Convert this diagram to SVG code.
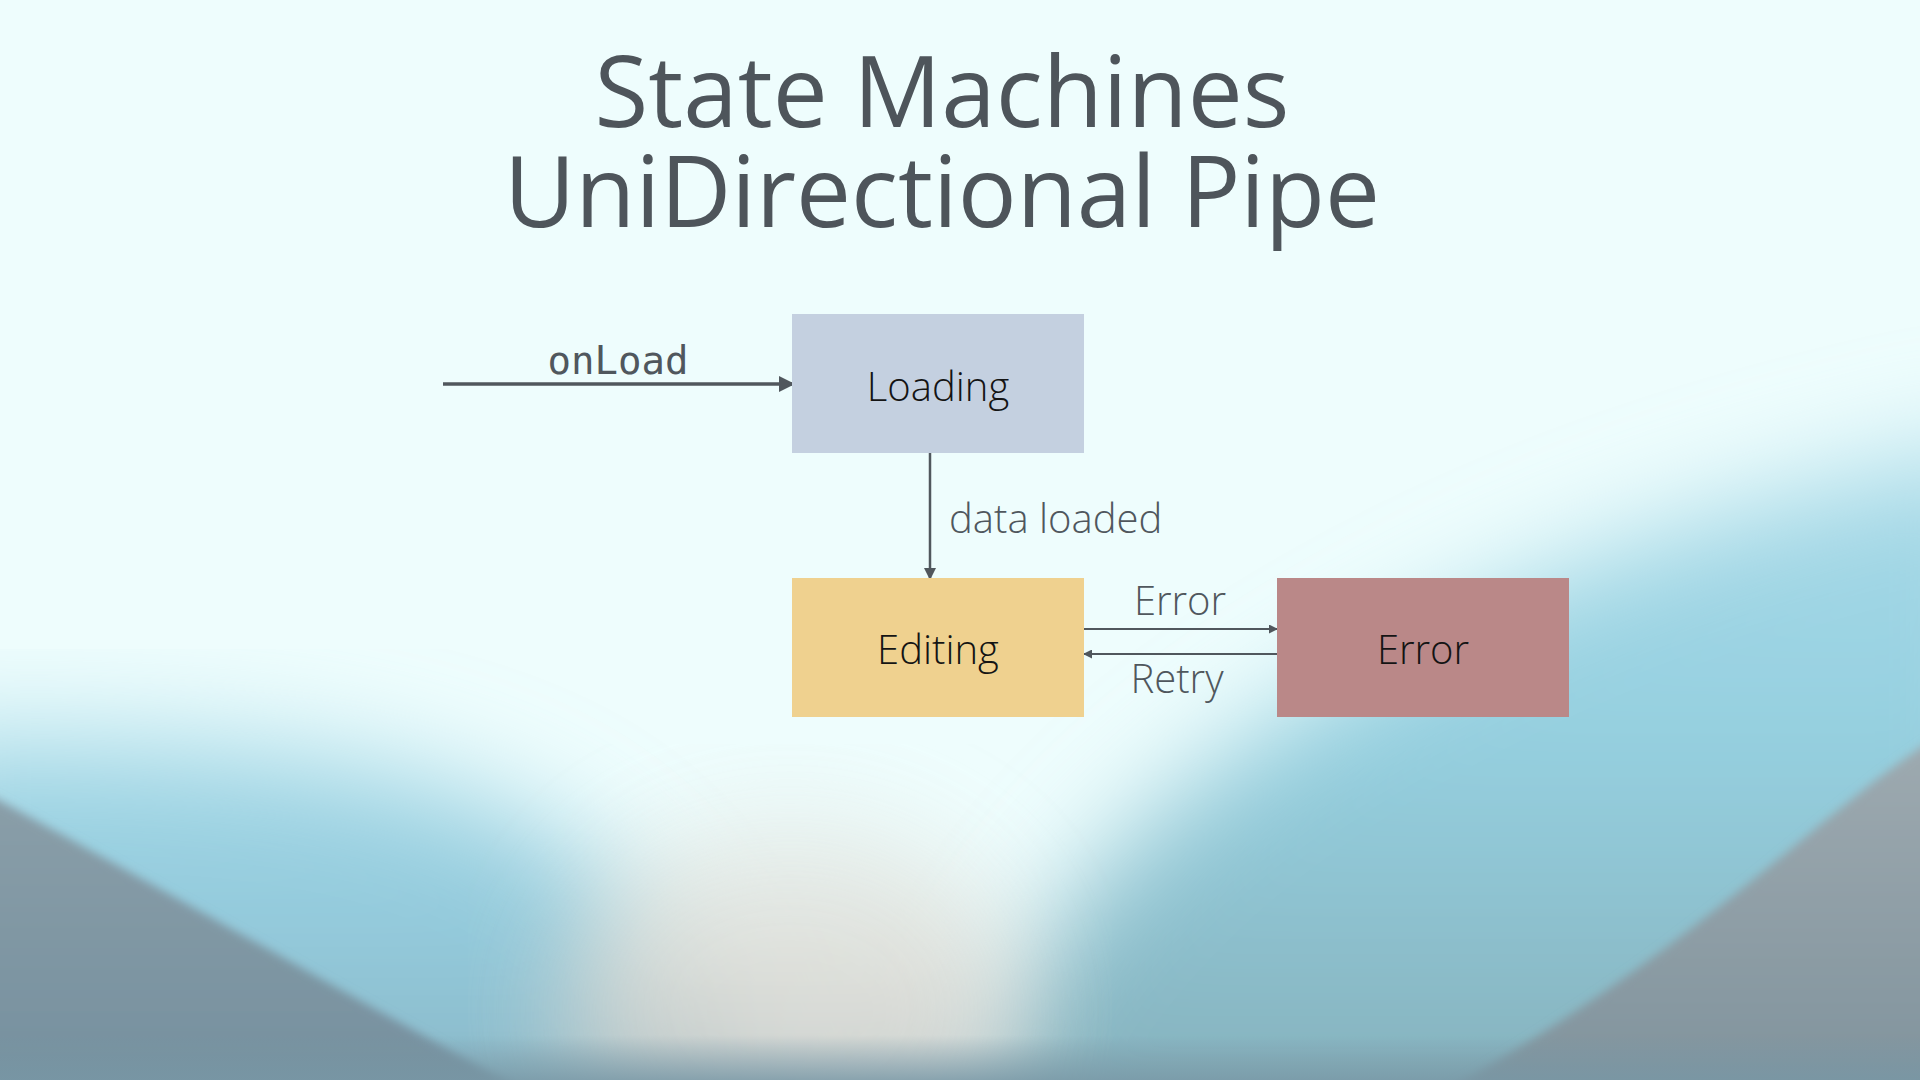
<svg xmlns="http://www.w3.org/2000/svg" width="1920" height="1080" viewBox="0 0 1920 1080">
  <style>
    .title { font-family: "Open Sans", "Liberation Sans", sans-serif; font-size: 98px; fill: #4e555b; text-anchor: middle; }
    .node-text { font-family: "Open Sans", "Liberation Sans", sans-serif; font-weight: 300; font-size: 40px; fill: #141414; text-anchor: middle; }
    .label { font-family: "Open Sans", "Liberation Sans", sans-serif; font-weight: 300; font-size: 40px; fill: #50575d; }
    .mono { font-family: "DejaVu Sans Mono", "Liberation Mono", monospace; font-size: 39px; fill: #50575d; text-anchor: middle; }
    .edge { stroke: #50575d; fill: none; }
  </style>
  <defs>
    <filter id="blurBig" x="-20%" y="-20%" width="140%" height="140%"><feGaussianBlur stdDeviation="55"/></filter>
    <filter id="blurSmall" x="-10%" y="-10%" width="120%" height="120%"><feGaussianBlur stdDeviation="5"/></filter>
    <linearGradient id="blueL" x1="0" y1="0" x2="0" y2="1">
      <stop offset="0" stop-color="#a2d8e7"/>
      <stop offset="0.45" stop-color="#92c9db"/>
      <stop offset="1" stop-color="#86aebb"/>
    </linearGradient>
    <linearGradient id="blueR" x1="0" y1="0" x2="0" y2="1">
      <stop offset="0" stop-color="#a9dae8"/>
      <stop offset="0.4" stop-color="#95d0e0"/>
      <stop offset="1" stop-color="#82aab4"/>
    </linearGradient>
    <linearGradient id="beige" x1="0" y1="0" x2="0" y2="1">
      <stop offset="0" stop-color="#e6ece8"/>
      <stop offset="0.5" stop-color="#d9d6cf"/>
      <stop offset="1" stop-color="#a9bcc4"/>
    </linearGradient>
    <linearGradient id="grayL" x1="0" y1="0" x2="0" y2="1">
      <stop offset="0" stop-color="#8a9ea8"/>
      <stop offset="1" stop-color="#748f9e"/>
    </linearGradient>
    <linearGradient id="grayR" x1="0" y1="0" x2="0" y2="1">
      <stop offset="0" stop-color="#9eaab0"/>
      <stop offset="1" stop-color="#7f929c"/>
    </linearGradient>
    <linearGradient id="bottomBand" x1="0" y1="0" x2="0" y2="1">
      <stop offset="0" stop-color="#7897a5" stop-opacity="0"/>
      <stop offset="1" stop-color="#7897a5" stop-opacity="0.8"/>
    </linearGradient>
    <marker id="arrowBig" viewBox="0 0 10 10" refX="10" refY="5" markerUnits="userSpaceOnUse" markerWidth="17" markerHeight="16" orient="auto">
      <path d="M0,0 L10,5 L0,10 z" fill="#50575d"/>
    </marker>
    <marker id="arrowMid" viewBox="0 0 10 10" refX="10" refY="5" markerUnits="userSpaceOnUse" markerWidth="14" markerHeight="12" orient="auto">
      <path d="M0,0 L10,5 L0,10 z" fill="#50575d"/>
    </marker>
    <marker id="arrowSmall" viewBox="0 0 10 10" refX="10" refY="5" markerUnits="userSpaceOnUse" markerWidth="9" markerHeight="9" orient="auto">
      <path d="M0,0 L10,5 L0,10 z" fill="#50575d"/>
    </marker>
  </defs>

  <!-- background -->
  <g id="background">
    <rect x="0" y="0" width="1920" height="1080" fill="#eefdfd"/>
    <path d="M-100,740 C 250,730 470,760 600,870 C 690,950 730,1030 760,1180 L -100,1180 Z" fill="url(#blueL)" filter="url(#blurBig)"/>
    <path d="M930,1180 C 980,1000 1080,860 1250,740 C 1450,600 1700,500 2020,440 L 2020,1180 Z" fill="url(#blueR)" filter="url(#blurBig)"/>
    <ellipse cx="790" cy="1010" rx="230" ry="190" fill="url(#beige)" filter="url(#blurBig)" opacity="0.85"/>
    <path d="M-20,790 C 120,865 330,985 540,1100 L -20,1100 Z" fill="url(#grayL)" filter="url(#blurSmall)"/>
    <path d="M1940,735 C 1820,810 1700,950 1430,1100 L 1940,1100 Z" fill="url(#grayR)" filter="url(#blurSmall)"/>
    <rect x="0" y="1035" width="1920" height="45" fill="url(#bottomBand)"/>
  </g>

  <!-- title -->
  <g id="title">
    <text class="title"><tspan x="942" y="127">State Machines</tspan><tspan x="942" y="227">UniDirectional Pipe</tspan></text>
  </g>

  <!-- connectors -->
  <g id="connectors">
    <line class="edge" x1="443" y1="384" x2="795" y2="384" stroke-width="3.5" marker-end="url(#arrowBig)"/>
    <text class="mono" x="618" y="374">onLoad</text>
    <line class="edge" x1="930" y1="453" x2="930" y2="580" stroke-width="2.5" marker-end="url(#arrowMid)"/>
    <text class="label" x="949" y="533">data loaded</text>
    <line class="edge" x1="1084" y1="629" x2="1278" y2="629" stroke-width="2" marker-end="url(#arrowSmall)"/>
    <text class="label" x="1180" y="615" text-anchor="middle">Error</text>
    <line class="edge" x1="1277" y1="654" x2="1083" y2="654" stroke-width="2" marker-end="url(#arrowSmall)"/>
    <text class="label" x="1177" y="693" text-anchor="middle">Retry</text>
  </g>

  <!-- nodes -->
  <g id="node-loading">
    <rect x="792" y="314" width="292" height="139" fill="#c4d0e0"/>
    <text class="node-text" x="938" y="401">Loading</text>
  </g>
  <g id="node-editing">
    <rect x="792" y="578" width="292" height="139" fill="#efd18f"/>
    <text class="node-text" x="938" y="664">Editing</text>
  </g>
  <g id="node-error">
    <rect x="1277" y="578" width="292" height="139" fill="#ba8888"/>
    <text class="node-text" x="1423" y="664">Error</text>
  </g>
</svg>
